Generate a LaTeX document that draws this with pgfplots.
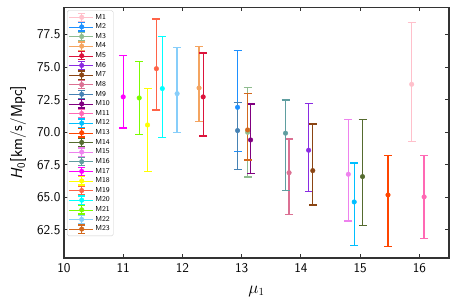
\documentclass[border=0pt]{standalone}
\usepackage{pgfplots}
\pgfplotsset{compat=1.18}
\renewcommand{\familydefault}{\sfdefault}
\definecolor{c1}{HTML}{FFC0CB}
\definecolor{c2}{HTML}{1E90FF}
\definecolor{c3}{HTML}{8FBC8F}
\definecolor{c4}{HTML}{F4A460}
\definecolor{c5}{HTML}{DC143C}
\definecolor{c6}{HTML}{8A2BE2}
\definecolor{c7}{HTML}{8B4513}
\definecolor{c8}{HTML}{DB7093}
\definecolor{c9}{HTML}{4682B4}
\definecolor{c10}{HTML}{800080}
\definecolor{c11}{HTML}{FF69B4}
\definecolor{c12}{HTML}{00BFFF}
\definecolor{c13}{HTML}{FF4500}
\definecolor{c14}{HTML}{556B2F}
\definecolor{c15}{HTML}{EE82EE}
\definecolor{c16}{HTML}{5F9EA0}
\definecolor{c17}{HTML}{FF00FF}
\definecolor{c18}{HTML}{FFFF00}
\definecolor{c19}{HTML}{FF6347}
\definecolor{c20}{HTML}{00FFFF}
\definecolor{c21}{HTML}{7CFC00}
\definecolor{c22}{HTML}{87CEFA}
\definecolor{c23}{HTML}{D2691E}
\pgfplotsset{
  eb/.style={only marks, mark=*, mark size=2.3bp, color=#1, mark options={fill=#1, draw=#1}},
}
\begin{document}
\begin{tikzpicture}
\begin{axis}[
  name=ax,
  width=385bp, height=250.7bp, scale only axis,
  xmin=10, xmax=16.5, ymin=60.32, ymax=79.6,
  xtick={10,11,...,16},
  ytick={62.5,65,67.5,70,72.5,75,77.5},
  yticklabel style={/pgf/number format/.cd,fixed,fixed zerofill,precision=1},
  /pgf/number format/assume math mode=true,
  tick align=inside,
  major tick length=4bp,
  axis line style={line width=1.1bp, black!80},
  every tick/.style={black!80, line width=0.9bp},
  ticklabel style={font=\sffamily\fontsize{13.5}{15}\selectfont},
  xticklabel style={yshift=-1.5bp},
  label style={font=\sffamily\fontsize{16}{18}\selectfont},
  xlabel={$\mu_1$},
  xlabel style={yshift=-6.5bp},
  ylabel={\textit{H}\textsubscript{0}[km/s/Mpc]},
  ylabel style={yshift=4bp},
  error bars/y dir=both,
  error bars/y explicit,
  error bars/error mark=|,
  error bars/error bar style={line width=1.3bp},
  error bars/error mark options={line width=1.3bp, mark size=4bp},
  legend style={at={(rel axis cs:0.008,0.988)}, anchor=north west,
    font=\sffamily\fontsize{7.3}{8}\selectfont, draw=black!20, rounded corners=1.5bp,
    row sep=-0.9bp, inner sep=1.5bp, cells={anchor=west}},
  legend image code/.code={
    \path (0cm,0cm) -- (0.85cm,0cm);
    \draw[#1, line width=1.2bp] (0.45cm,-0.145cm) -- (0.45cm,0.145cm);
    \draw[#1, line width=1.2bp] (0.33cm,-0.145cm) -- (0.57cm,-0.145cm) (0.33cm,0.145cm) -- (0.57cm,0.145cm);
    \draw[#1] plot coordinates {(0.45cm,0cm)};
  },
]
\addplot[eb=c1] coordinates {(15.87,73.68) += (0,4.77) -= (0,4.41)};
\addlegendentry{M1}
\addplot[eb=c2] coordinates {(12.93,71.91) += (0,4.36) -= (0,3.38)};
\addlegendentry{M2}
\addplot[eb=c3] coordinates {(13.10,69.99) += (0,3.43) -= (0,3.44)};
\addlegendentry{M3}
\addplot[eb=c4] coordinates {(12.28,73.40) += (0,3.18) -= (0,2.59)};
\addlegendentry{M4}
\addplot[eb=c5] coordinates {(12.35,72.71) += (0,3.38) -= (0,3.00)};
\addlegendentry{M5}
\addplot[eb=c6] coordinates {(14.13,68.61) += (0,3.58) -= (0,3.19)};
\addlegendentry{M6}
\addplot[eb=c7] coordinates {(14.20,67.04) += (0,3.59) -= (0,2.64)};
\addlegendentry{M7}
\addplot[eb=c8] coordinates {(13.80,66.88) += (0,2.60) -= (0,3.20)};
\addlegendentry{M8}
\addplot[eb=c9] coordinates {(12.93,70.12) += (0,2.15) -= (0,3.00)};
\addlegendentry{M9}
\addplot[eb=c10] coordinates {(13.15,69.40) += (0,2.77) -= (0,2.60)};
\addlegendentry{M10}
\addplot[eb=c11] coordinates {(16.08,65.02) += (0,3.17) -= (0,3.21)};
\addlegendentry{M11}
\addplot[eb=c12] coordinates {(14.90,64.63) += (0,3.00) -= (0,3.36)};
\addlegendentry{M12}
\addplot[eb=c13] coordinates {(15.47,65.17) += (0,3.02) -= (0,3.98)};
\addlegendentry{M13}
\addplot[eb=c14] coordinates {(15.04,66.58) += (0,4.41) -= (0,3.77)};
\addlegendentry{M14}
\addplot[eb=c15] coordinates {(14.80,66.76) += (0,4.20) -= (0,3.59)};
\addlegendentry{M15}
\addplot[eb=c16] coordinates {(13.74,69.92) += (0,2.56) -= (0,4.42)};
\addlegendentry{M16}
\addplot[eb=c17] coordinates {(11.00,72.71) += (0,3.17) -= (0,2.39)};
\addlegendentry{M17}
\addplot[eb=c18] coordinates {(11.41,70.55) += (0,2.80) -= (0,3.59)};
\addlegendentry{M18}
\addplot[eb=c19] coordinates {(11.56,74.88) += (0,3.83) -= (0,3.17)};
\addlegendentry{M19}
\addplot[eb=c20] coordinates {(11.66,73.35) += (0,4.00) -= (0,3.77)};
\addlegendentry{M20}
\addplot[eb=c21] coordinates {(11.27,72.63) += (0,2.79) -= (0,2.79)};
\addlegendentry{M21}
\addplot[eb=c22] coordinates {(11.91,72.96) += (0,3.57) -= (0,3.00)};
\addlegendentry{M22}
\addplot[eb=c23] coordinates {(13.10,70.17) += (0,2.79) -= (0,2.31)};
\addlegendentry{M23}
\end{axis}
\path ([shift={(-64bp,-48bp)}]ax.south west) rectangle ([shift={(8bp,7.3bp)}]ax.north east);
\end{tikzpicture}
\end{document}
